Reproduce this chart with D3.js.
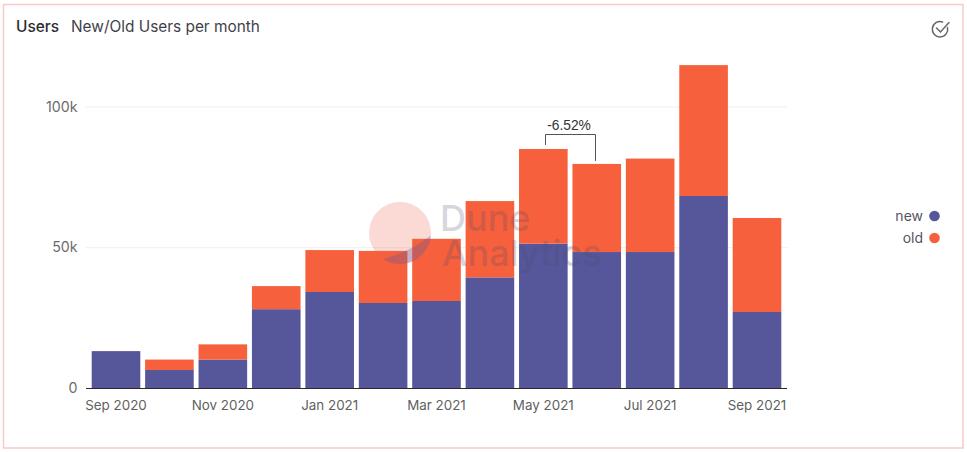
<!DOCTYPE html>
<html>
<head>
<meta charset="utf-8">
<script src="https://cdnjs.cloudflare.com/ajax/libs/d3/7.8.5/d3.min.js"></script>
<style>
html,body{margin:0;padding:0;background:#fff;overflow:hidden}
svg{display:block}
text{font-family:Inter,"Noto Sans",sans-serif}
</style>
</head>
<body>
<svg id="chart" width="967" height="452"></svg>
<script>
const months = ["Sep 2020","Oct 2020","Nov 2020","Dec 2020","Jan 2021","Feb 2021","Mar 2021","Apr 2021","May 2021","Jun 2021","Jul 2021","Aug 2021","Sep 2021"];
const newUsers = [13100,6400,10100,28000,34100,30200,30900,39300,51300,48300,48300,68200,27000];
const oldUsers = [0,3700,5400,8200,14900,18500,22100,27100,33600,31300,33200,46500,33400];
const seriesNames = ["new","old"];
const seriesColors = ["#56569b","#f6603d"];
const yTicks = [0,50000,100000];
const xTickLabels = ["Sep 2020","Nov 2020","Jan 2021","Mar 2021","May 2021","Jul 2021","Sep 2021"];
const changeLabel = "-6.52%";
const changeFrom = "May 2021";
const changeTo = "Jun 2021";

const svg = d3.select("#chart");
const axisL = 86, axisR = 787, baseY = 388;

svg.append("rect").attr("x",3.5).attr("y",4.5).attr("width",959.5).attr("height",443.5)
  .attr("fill","#fff").attr("stroke","#fbc9c4").attr("stroke-width",1.5);

const x = d3.scaleBand().domain(months).range([89.3,783.7]).paddingInner(0.09).paddingOuter(0.045);
const y = d3.scaleLinear().domain([0,100000]).range([baseY,106.5]);

// title
svg.append("text").attr("x",16).attr("y",32).attr("font-size",15.4).attr("font-weight",500).attr("fill","#2b2b33").text("Users");
svg.append("text").attr("x",71).attr("y",32).attr("font-size",15.4).attr("fill","#3f3f4a").text("New/Old Users per month");

// grid
svg.append("g").selectAll("line").data(yTicks.filter(d=>d>0)).join("line")
  .attr("x1",axisL).attr("x2",axisR).attr("y1",d=>y(d)+.5).attr("y2",d=>y(d)+.5)
  .attr("stroke","#eeeeee");

// y axis
const yAxis = d3.axisLeft(y).tickValues(yTicks).tickSize(0).tickPadding(0)
  .tickFormat(d=>d===0?"0":(d/1000)+"k");
const gy = svg.append("g").attr("transform",`translate(77.5,0)`).call(yAxis);
gy.select(".domain").remove();
gy.selectAll("text").attr("font-size",14.2).attr("fill","#6b6b6b").style("font-family",'Inter,"Noto Sans",sans-serif');

// x axis line + labels
const xAxis = d3.axisBottom(x).tickValues(xTickLabels).tickSize(0).tickPadding(0);
const gx = svg.append("g").attr("transform",`translate(0,${baseY})`).call(xAxis);
gx.select(".domain").remove();
gx.selectAll("text").attr("font-size",13.4).attr("fill","#5f5f5f").attr("dy",0).attr("y",22).style("font-family",'Inter,"Noto Sans",sans-serif');
svg.append("line").attr("x1",axisL).attr("x2",axisR).attr("y1",baseY+.5).attr("y2",baseY+.5).attr("stroke","#2a2a2a").attr("stroke-width",1.2);

// stacked bars
const rows = months.map((m,i)=>({month:m,new:newUsers[i],old:oldUsers[i]}));
const stacked = d3.stack().keys(seriesNames)(rows);
const color = d3.scaleOrdinal().domain(seriesNames).range(seriesColors);
svg.append("g").selectAll("g").data(stacked).join("g").attr("fill",d=>color(d.key))
  .selectAll("rect").data(d=>d.filter(p=>p[1]>p[0])).join("rect")
  .attr("x",d=>x(d.data.month)).attr("width",x.bandwidth())
  .attr("y",d=>y(d[1])).attr("height",d=>y(d[0])-y(d[1]));

// watermark
const wm = svg.append("g").attr("pointer-events","none");
const defs = svg.append("defs");
defs.append("clipPath").attr("id","wmc").append("circle").attr("cx",400).attr("cy",233).attr("r",31);
wm.append("circle").attr("cx",400).attr("cy",233).attr("r",31).attr("fill","#f0604a").attr("opacity",.24);
wm.append("path").attr("clip-path","url(#wmc)").attr("d","M365 262 Q405 258 435 232 L435 270 L365 270 Z").attr("fill","#56569b").attr("opacity",.3);
wm.append("text").attr("x",440).attr("y",231).attr("font-size",36).attr("font-weight",500).attr("fill","#4a4a66").attr("opacity",.22).text("Dune");
wm.append("text").attr("x",442).attr("y",266).attr("font-size",36).attr("font-weight",500).attr("fill","#4a4a66").attr("opacity",.22).text("Analytics");

// change bracket
const totals = months.map((m,i)=>newUsers[i]+oldUsers[i]);
const fromX = x(changeFrom)+x.bandwidth()/2+1.5;
const toX = x(changeTo)+x.bandwidth()/2-1.5;
const fromTop = y(totals[months.indexOf(changeFrom)]);
const toTop = y(totals[months.indexOf(changeTo)]);
const bracketY = fromTop-14.5;
svg.append("path").attr("fill","none").attr("stroke","#555").attr("stroke-width",1)
  .attr("d",`M${Math.round(fromX)+.5} ${fromTop-4}V${bracketY}H${Math.round(toX)+.5}V${toTop-3}`);
svg.append("text").attr("x",(fromX+toX)/2-1).attr("y",bracketY-5).attr("text-anchor","middle")
  .attr("font-size",13.8).attr("fill","#333").style("font-family","'Liberation Sans',Arial,sans-serif").text(changeLabel);

// legend
const legend = svg.append("g").selectAll("g").data(seriesNames).join("g")
  .attr("transform",(d,i)=>`translate(0,${216+i*22})`);
legend.append("text").attr("x",923).attr("y",5).attr("text-anchor","end").attr("font-size",14).attr("fill","#55555f").text(d=>d);
legend.append("circle").attr("cx",934.5).attr("r",5.3).attr("fill",d=>color(d));

// check icon
const icon = svg.append("g").attr("fill","none").attr("stroke","#66666c").attr("stroke-width",1.5).attr("stroke-linecap","round");
icon.append("path").attr("d","M947.5 27.5A7.7 7.7 0 1 1 942.5 22");
icon.append("path").attr("d","M936.5 28L940.5 32L949 22.5");
</script>
</body>
</html>
